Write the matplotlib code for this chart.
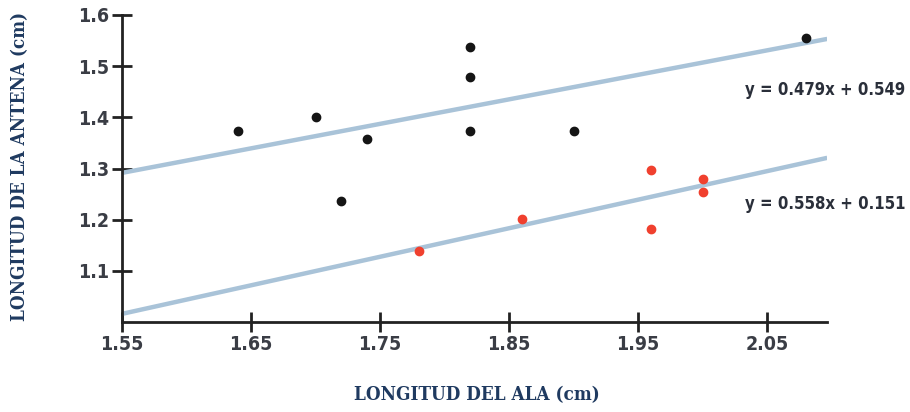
import numpy as np
import matplotlib.pyplot as plt

# Datos: longitud del ala vs longitud de la antena (cm)
ala_negro = [1.64, 1.70, 1.72, 1.74, 1.82, 1.82, 1.82, 1.90, 2.08]
antena_negro = [1.374, 1.40, 1.236, 1.357, 1.538, 1.479, 1.374, 1.374, 1.555]

ala_rojo = [1.78, 1.86, 1.96, 1.96, 2.00, 2.00]
antena_rojo = [1.138, 1.201, 1.298, 1.182, 1.279, 1.254]

# Rectas de ajuste (pendiente, ordenada)
recta_sup = (0.479, 0.549)
recta_inf = (0.558, 0.151)

xticks = [1.55, 1.65, 1.75, 1.85, 1.95, 2.05]
yticks = [1.1, 1.2, 1.3, 1.4, 1.5, 1.6]

fig = plt.figure(figsize=(9.1, 4.12), dpi=100)
ax = fig.add_axes([0.134, 0.2184, 0.775, 0.7452])

xlim = (1.55, 2.0965)
xs = np.array(xlim)
for m, b in (recta_sup, recta_inf):
    ax.plot(xs, m * xs + b, color='#a9c3d8', lw=3.2, solid_capstyle='butt', zorder=2)

ax.plot(ala_negro, antena_negro, 'o', color='#151515', ms=6, zorder=3)
ax.plot(ala_rojo, antena_rojo, 'o', color='#f0402e', ms=6, zorder=3)

ax.set_xlim(*xlim)
ax.set_ylim(1.0, 1.6)
ax.set_xticks(xticks)
ax.set_yticks(yticks)

estilo = dict(family='DejaVu Sans', stretch='condensed', weight='bold', color='#3a3d45')
ax.set_xticklabels([f'{v:.2f}' for v in xticks], fontsize=14, **estilo)
ax.set_yticklabels([f'{v:.1f}' for v in yticks], fontsize=14, **estilo)

for s in ('top', 'right'):
    ax.spines[s].set_visible(False)
for s in ('left', 'bottom'):
    ax.spines[s].set_linewidth(2)
    ax.spines[s].set_color('#222222')
ax.tick_params(direction='inout', length=15, width=2, color='#222222', pad=2)

ax.text(2.033, 1.454, 'y = 0.479x + 0.549', fontsize=12, va='center',
        clip_on=False, **{**estilo, 'color': '#2a2f3a'})
ax.text(2.033, 1.230, 'y = 0.558x + 0.151', fontsize=12, va='center',
        clip_on=False, **{**estilo, 'color': '#2a2f3a'})

azul = '#1f3a60'
serif = dict(family='DejaVu Serif', stretch='condensed', weight='bold',
             fontsize=13.5, color=azul, ha='center', va='center')
fig.text(0.524, 0.04, 'LONGITUD DEL ALA (cm)', **serif)
fig.text(0.022, 0.595, 'LONGITUD DE LA ANTENA (cm)', rotation=90, **serif)

fig.savefig('out.png', dpi=100)
